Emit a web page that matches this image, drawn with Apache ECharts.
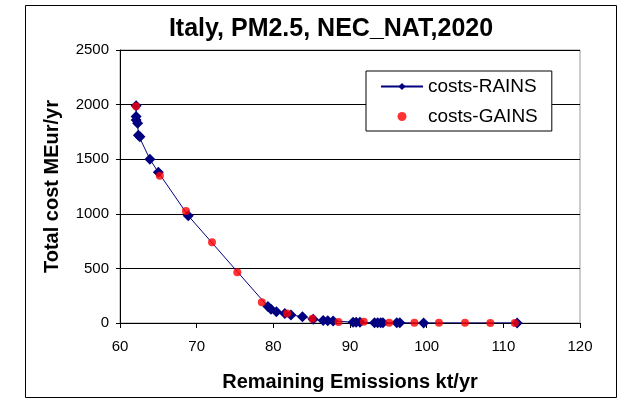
<!DOCTYPE html>
<html>
<head>
<meta charset="utf-8">
<script src="https://cdn.jsdelivr.net/npm/echarts@6/dist/echarts.min.js"></script>
<style>
  html, body { margin: 0; padding: 0; background: #fff; }
  #chart { width: 632px; height: 408px; }
</style>
</head>
<body>
<div id="chart"></div>
<script>
// ---- data ----
const rainsX = [62.1, 62.1, 62.1, 62.3, 62.4, 62.6, 63.9, 65.0, 68.9, 79.3, 79.7, 80.4, 81.5, 82.3, 83.8, 85.2, 86.5, 87.1, 87.8, 90.4, 90.8, 91.3, 93.2, 93.6, 94.0, 94.3, 96.1, 96.5, 99.6, 111.8];
const rainsY = [1990, 1890, 1860, 1830, 1720, 1706, 1500, 1380, 983, 150, 125, 104, 88, 73, 58, 34, 22, 20, 18, 8, 8, 7, 3, 3, 3, 3, 2, 2, 1, 1];
const gainsX = [62.1, 65.2, 68.6, 72.0, 75.3, 78.5, 81.8, 85.1, 88.5, 91.8, 95.1, 98.4, 101.6, 105.0, 108.3, 111.5];
const gainsY = [1985, 1349, 1026, 739, 464, 189, 88, 40, 10, 12, 3, 3, 2, 2, 1, 1];

const xTicks = [60, 70, 80, 90, 100, 110, 120];
const yTicks = [0, 500, 1000, 1500, 2000, 2500];

const font = "Liberation Sans, Arial, sans-serif";

document.addEventListener("DOMContentLoaded", () => {
  const chart = echarts.init(document.getElementById("chart"));

  const option = {
    animation: false,
    title: {
      text: "Italy, PM2.5, NEC_NAT,2020",
      left: 326,
      textAlign: "center",
      top: 12,
      textStyle: { fontFamily: font, fontSize: 25, fontWeight: "bold", color: "#000" }
    },
    graphic: [{
      type: "rect",
      shape: { x: 25.5, y: 5.5, width: 591, height: 392 },
      style: { fill: "none", stroke: "#000", lineWidth: 1 },
      silent: true
    }],
    legend: {
      orient: "vertical",
      left: 366,
      top: 71,
      padding: [6, 14, 5, 14],
      itemGap: 11,
      itemWidth: 42,
      itemHeight: 9,
      borderColor: "#000",
      borderWidth: 1,
      backgroundColor: "#fff",
      textStyle: { fontFamily: font, fontSize: 19, color: "#000" },
      data: ["costs-RAINS", "costs-GAINS"]
    },
    grid: { left: 120, right: 52, top: 50, bottom: 85, show: true, borderColor: "#999", borderWidth: 1 },
    xAxis: {
      type: "value",
      min: xTicks[0],
      max: xTicks[xTicks.length - 1],
      interval: 10,
      name: "Remaining Emissions kt/yr",
      nameLocation: "middle",
      nameGap: 49,
      nameTextStyle: { fontFamily: font, fontSize: 20, fontWeight: "bold", color: "#000" },
      axisLine: { lineStyle: { color: "#000" } },
      axisTick: { length: 5, lineStyle: { color: "#000" } },
      axisLabel: { fontFamily: font, fontSize: 15, color: "#000", margin: 16 },
      splitLine: { show: false }
    },
    yAxis: {
      type: "value",
      min: yTicks[0],
      max: yTicks[yTicks.length - 1],
      interval: 500,
      name: "Total cost MEur/yr",
      nameLocation: "middle",
      nameGap: 58,
      nameTextStyle: { fontFamily: font, fontSize: 20, fontWeight: "bold", color: "#000" },
      axisLine: { show: true, lineStyle: { color: "#000" } },
      axisTick: { show: true, length: 4, lineStyle: { color: "#000" } },
      axisLabel: { fontFamily: font, fontSize: 15, color: "#000", margin: 11, formatter: v => String(v) },
      splitLine: { show: true, lineStyle: { color: "#000", width: 1 } }
    },
    series: [
      {
        name: "costs-RAINS",
        type: "line",
        data: rainsX.map((x, i) => [x, rainsY[i]]),
        symbol: "diamond",
        symbolSize: 11,
        itemStyle: { color: "#000080" },
        lineStyle: { color: "#000080", width: 1 },
        z: 2
      },
      {
        name: "costs-GAINS",
        type: "scatter",
        data: gainsX.map((x, i) => [x, gainsY[i]]),
        symbol: "circle",
        symbolSize: 8,
        itemStyle: { color: "#ff0000" },
        z: 3
      }
    ]
  };

  chart.setOption(option);
});
</script>
</body>
</html>
